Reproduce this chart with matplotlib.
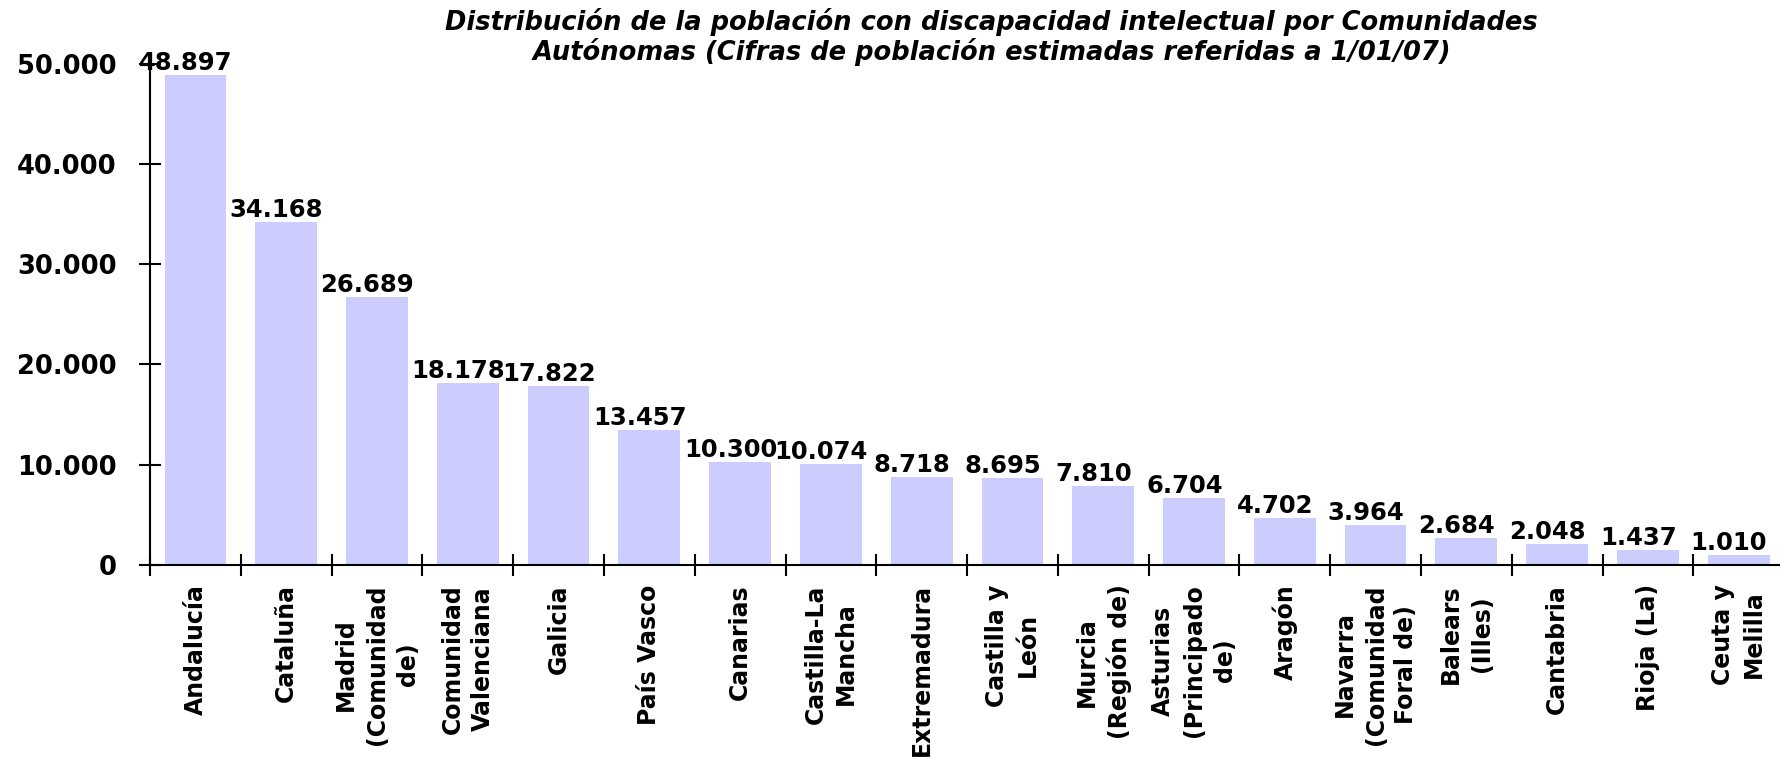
import matplotlib.pyplot as plt
from matplotlib.ticker import FuncFormatter

regiones = ["Andalucía", "Cataluña", "Madrid\n(Comunidad\nde)", "Comunidad\nValenciana",
            "Galicia", "País Vasco", "Canarias", "Castilla-La\nMancha", "Extremadura",
            "Castilla y\nLeón", "Murcia\n(Región de)", "Asturias\n(Principado\nde)",
            "Aragón", "Navarra\n(Comunidad\nForal de)", "Balears\n(Illes)", "Cantabria",
            "Rioja (La)", "Ceuta y\nMelilla"]
poblacion = [48897, 34168, 26689, 18178, 17822, 13457, 10300, 10074, 8718,
             8695, 7810, 6704, 4702, 3964, 2684, 2048, 1437, 1010]
etiquetas = ["48.897", "34.168", "26.689", "18.178", "17.822", "13.457", "10.300",
             "10.074", "8.718", "8.695", "7.810", "6.704", "4.702", "3.964", "2.684",
             "2.048", "1.437", "1.010"]

fig = plt.figure(figsize=(17.8, 7.59), dpi=100)
ax = fig.add_axes([0.0843, 0.256, 0.918, 0.66])

x = list(range(len(regiones)))
ax.bar(x, poblacion, width=0.68, color="#ccccff")
for xi, v, t in zip(x, poblacion, etiquetas):
    ax.annotate(t, xy=(xi, v), xytext=(-7, 0), textcoords="offset points",
                ha="center", va="bottom", fontsize=17.5, fontweight="bold")

ax.set_xlim(-0.5, len(regiones) - 0.5)
ax.set_ylim(0, 50000)
ax.set_yticks(range(0, 50001, 10000))
ax.yaxis.set_major_formatter(FuncFormatter(lambda v, p: f"{int(v):,}".replace(",", ".")))
ax.set_xticks(x)
ax.set_xticklabels(regiones, rotation=90, ha="center", va="top", multialignment="center",
                   fontsize=17, fontweight="bold", linespacing=1.35)
ax.set_xticks([i - 0.5 for i in range(len(regiones) + 1)], minor=True)
ax.tick_params(axis="x", which="major", length=0, pad=14)
ax.tick_params(axis="x", which="minor", direction="inout", length=16, width=1.5)
ax.tick_params(axis="y", direction="inout", length=16, width=1.5, pad=16, labelsize=18.5)
for lab in ax.get_yticklabels():
    lab.set_fontweight("bold")

for s in ["top", "right"]:
    ax.spines[s].set_visible(False)
for s in ["left", "bottom"]:
    ax.spines[s].set_linewidth(1.5)

fig.text(0.557, 0.99, "Distribución de la población con discapacidad intelectual por Comunidades\n"
         "Autónomas (Cifras de población estimadas referidas a 1/01/07)",
         ha="center", va="top", fontsize=18.5, fontweight="bold", style="italic",
         linespacing=1.1)

plt.savefig("out.png", dpi=100)
